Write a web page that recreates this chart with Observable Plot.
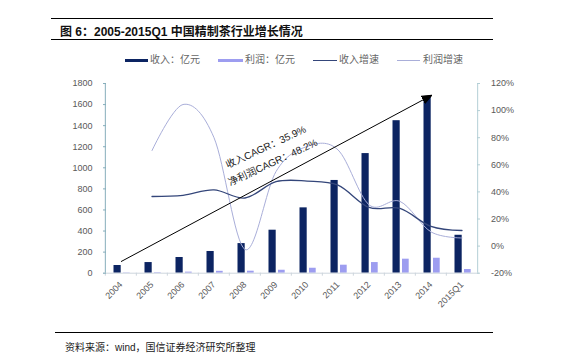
<!DOCTYPE html>
<html>
<head>
<meta charset="utf-8">
<script src="https://cdn.jsdelivr.net/npm/d3@7"></script>
<script src="https://cdn.jsdelivr.net/npm/@observablehq/plot@0.6"></script>
<style>
  html, body { margin: 0; padding: 0; background: #fff; }
  body { width: 564px; height: 362px; position: relative; overflow: hidden;
         font-family: "Liberation Sans", Arial, "Noto Sans CJK SC", sans-serif; }
  .abs { position: absolute; }
  #title { left: 51px; top: 17.5px; width: 442px; height: 20px; border-top: 1.4px solid #000; border-bottom: 1px solid #000; }
  #title span { position: absolute; left: 9px; top: 3px; font-size: 12px; font-weight: bold; color: #111; white-space: nowrap; }
  .lg { position: absolute; top: 54px; font-size: 10px; color: #666; white-space: nowrap; line-height: 12px; }
  .sw { position: absolute; }
  #chart { left: 0; top: 70px; }
  #foot { left: 55px; top: 332px; width: 438px; border-top: 1px solid #000; }
  #foottext { left: 65px; top: 339px; font-size: 10px; color: #222; white-space: nowrap; }
</style>
</head>
<body>
<div id="title" class="abs"><span>图 6：2005-2015Q1 中国精制茶行业增长情况</span></div>
<div id="legend"></div>
<div id="chart" class="abs"></div>
<div id="foot" class="abs"></div>
<div id="foottext" class="abs">资料来源：wind，国信证券经济研究所整理</div>
<script>
// ---- data ----
const years = ["2004","2005","2006","2007","2008","2009","2010","2011","2012","2013","2014","2015Q1"];
const revenue = [73, 101, 149, 206, 281, 408, 620, 880, 1135, 1447, 1675, 360];   // 收入：亿元
const profit  = [3, 5, 10, 18, 19, 28, 47, 76, 101, 133, 142, 35];                 // 利润：亿元
const growthYears = ["2005","2006","2007","2008","2009","2010","2011","2012","2013","2014","2015Q1"];
const revenueGrowth = [36.6, 37.5, 41.5, 35.5, 47.5, 48, 45, 28.5, 27.8, 14.5, 11.5]; // 收入增速 %
const profitGrowth  = [70.5, 104.5, 80, -2.5, 55, 73.5, 71, 30.5, 33, 10.5, 6];     // 利润增速 %
const leftTicks = [0, 200, 400, 600, 800, 1000, 1200, 1400, 1600, 1800];
const rightTicks = [-20, 0, 20, 40, 60, 80, 100, 120];
const legendLabels = ["收入：亿元", "利润：亿元", "收入增速", "利润增速"];
const cagrLabels = ["收入CAGR：35.9%", "净利润CAGR：48.2%"];
const arrowFrom = {x: "2004", y: 110};
const arrowTo = {x: "2014", y: 1685};

// ---- styles ----
const C_REV = "#0c2462", C_PROF = "#9d9df0", C_RG = "#34467a", C_PG = "#a9aed9";

// secondary axis mapping: -20%..120% -> 0..1800
const pctToLeft = p => (p + 20) / 140 * 1800;
const leftToPct = v => Math.round(v / 1800 * 140 - 20);

const bars = years.map((y, i) => ({year: y, revenue: revenue[i], profit: profit[i]}));
const growth = growthYears.map((y, i) => ({year: y, rg: pctToLeft(revenueGrowth[i]), pg: pctToLeft(profitGrowth[i])}));

// legend
const legend = document.getElementById("legend");
const lgItems = [
  {sx: 125, sw: 23, sh: 3, c: C_REV, tx: 150},
  {sx: 218, sw: 25, sh: 3, c: C_PROF, tx: 245},
  {sx: 313, sw: 24, sh: 1, c: C_RG, tx: 339},
  {sx: 397, sw: 23, sh: 1, c: C_PG, tx: 423}
];
lgItems.forEach((it, i) => {
  const s = document.createElement("div");
  s.className = "sw";
  s.style.cssText = `left:${it.sx}px;top:${60 - it.sh/2}px;width:${it.sw}px;height:${it.sh}px;background:${it.c}`;
  legend.appendChild(s);
  const t = document.createElement("div");
  t.className = "lg";
  t.style.left = it.tx + "px";
  t.textContent = legendLabels[i];
  legend.appendChild(t);
});

function triMarker(color) {
  const ns = "http://www.w3.org/2000/svg";
  const m = document.createElementNS(ns, "marker");
  m.setAttribute("viewBox", "-5 -5 10 10");
  m.setAttribute("markerWidth", 10);
  m.setAttribute("markerHeight", 10);
  m.setAttribute("markerUnits", "userSpaceOnUse");
  m.setAttribute("refX", 4);
  m.setAttribute("refY", 0);
  m.setAttribute("orient", "auto");
  const p = document.createElementNS(ns, "path");
  p.setAttribute("d", "M-5,-4L5,0L-5,4Z");
  p.setAttribute("fill", "#000");
  m.appendChild(p);
  return m;
}

const W = 564, H = 245, ML = 103, MR = 85;
const bw = (W - ML - MR) / years.length;

function build(marker) {
  return Plot.plot({
    width: W, height: H,
    marginTop: 13, marginBottom: 42.3, marginLeft: ML, marginRight: MR,
    x: {type: "band", domain: years, padding: 0, label: null},
    y: {domain: [0, 1800], label: null},
    style: {fontFamily: "'Liberation Sans', Arial, sans-serif", fontSize: "9px", color: "#595959", background: "transparent"},
    marks: [
      Plot.barY(bars, {x: "year", y: "revenue", fill: C_REV, insetLeft: 8.5, insetRight: 15.3}),
      Plot.barY(bars, {x: "year", y: "profit", fill: C_PROF, insetLeft: 18, insetRight: 6.3}),
      Plot.ruleY([0], {stroke: "#cdd5dd"}),
      Plot.axisX({ticks: years, tickSize: 3, dx: -bw / 2, text: null, stroke: "#cdd5dd"}),
      Plot.axisX({tickSize: 0, tickPadding: 10, tickRotate: -45, fill: "#595959", fontSize: 9}),
      Plot.ruleX([years[0]], {dx: -bw / 2, y1: 0, y2: 1800, stroke: "#86aebb"}),
      Plot.ruleX([years[years.length - 1]], {dx: bw / 2, y1: 0, y2: 1800, stroke: "#b4cfd6"}),
      Plot.axisY({anchor: "left", ticks: leftTicks, tickSize: 3, dx: 3, text: null, stroke: "#86aebb"}),
      Plot.axisY({anchor: "left", ticks: leftTicks, tickSize: 0, tickPadding: 11, tickFormat: d => String(d),
                  fill: "#595959", fontSize: 9}),
      Plot.axisY({anchor: "right", ticks: rightTicks.map(pctToLeft), tickSize: 3, dx: -3, text: null, stroke: "#b4cfd6"}),
      Plot.axisY({anchor: "right", ticks: rightTicks.map(pctToLeft), tickSize: 0, tickPadding: 11.5,
                  tickFormat: v => leftToPct(v) + "%", fill: "#595959", fontSize: 9}),
      Plot.line(growth, {x: "year", y: "pg", stroke: C_PG, strokeWidth: 1, curve: "cardinal"}),
      Plot.line(growth, {x: "year", y: "rg", stroke: C_RG, strokeWidth: 1.3, curve: "cardinal"}),
      Plot.link([{}], {x1: () => arrowFrom.x, y1: () => arrowFrom.y, x2: () => arrowTo.x, y2: () => arrowTo.y,
                       stroke: "#000", strokeWidth: 1, markerEnd: marker}),
      Plot.text([cagrLabels[0]], {x: () => "2009", y: () => 1195, text: d => d, dx: -10, rotate: -25,
                                   fontSize: 10, fill: "#1a1a1a", fontFamily: "'Liberation Sans', 'Noto Sans CJK SC', sans-serif"}),
      Plot.text([cagrLabels[1]], {x: () => "2009", y: () => 1050, text: d => d, dx: -3, rotate: -25,
                                   fontSize: 10, fill: "#1a1a1a", fontFamily: "'Liberation Sans', 'Noto Sans CJK SC', sans-serif"})
    ]
  });
}

let chart;
try { chart = build(triMarker); } catch (e) { chart = build("arrow"); }
document.getElementById("chart").appendChild(chart);
</script>
</body>
</html>
